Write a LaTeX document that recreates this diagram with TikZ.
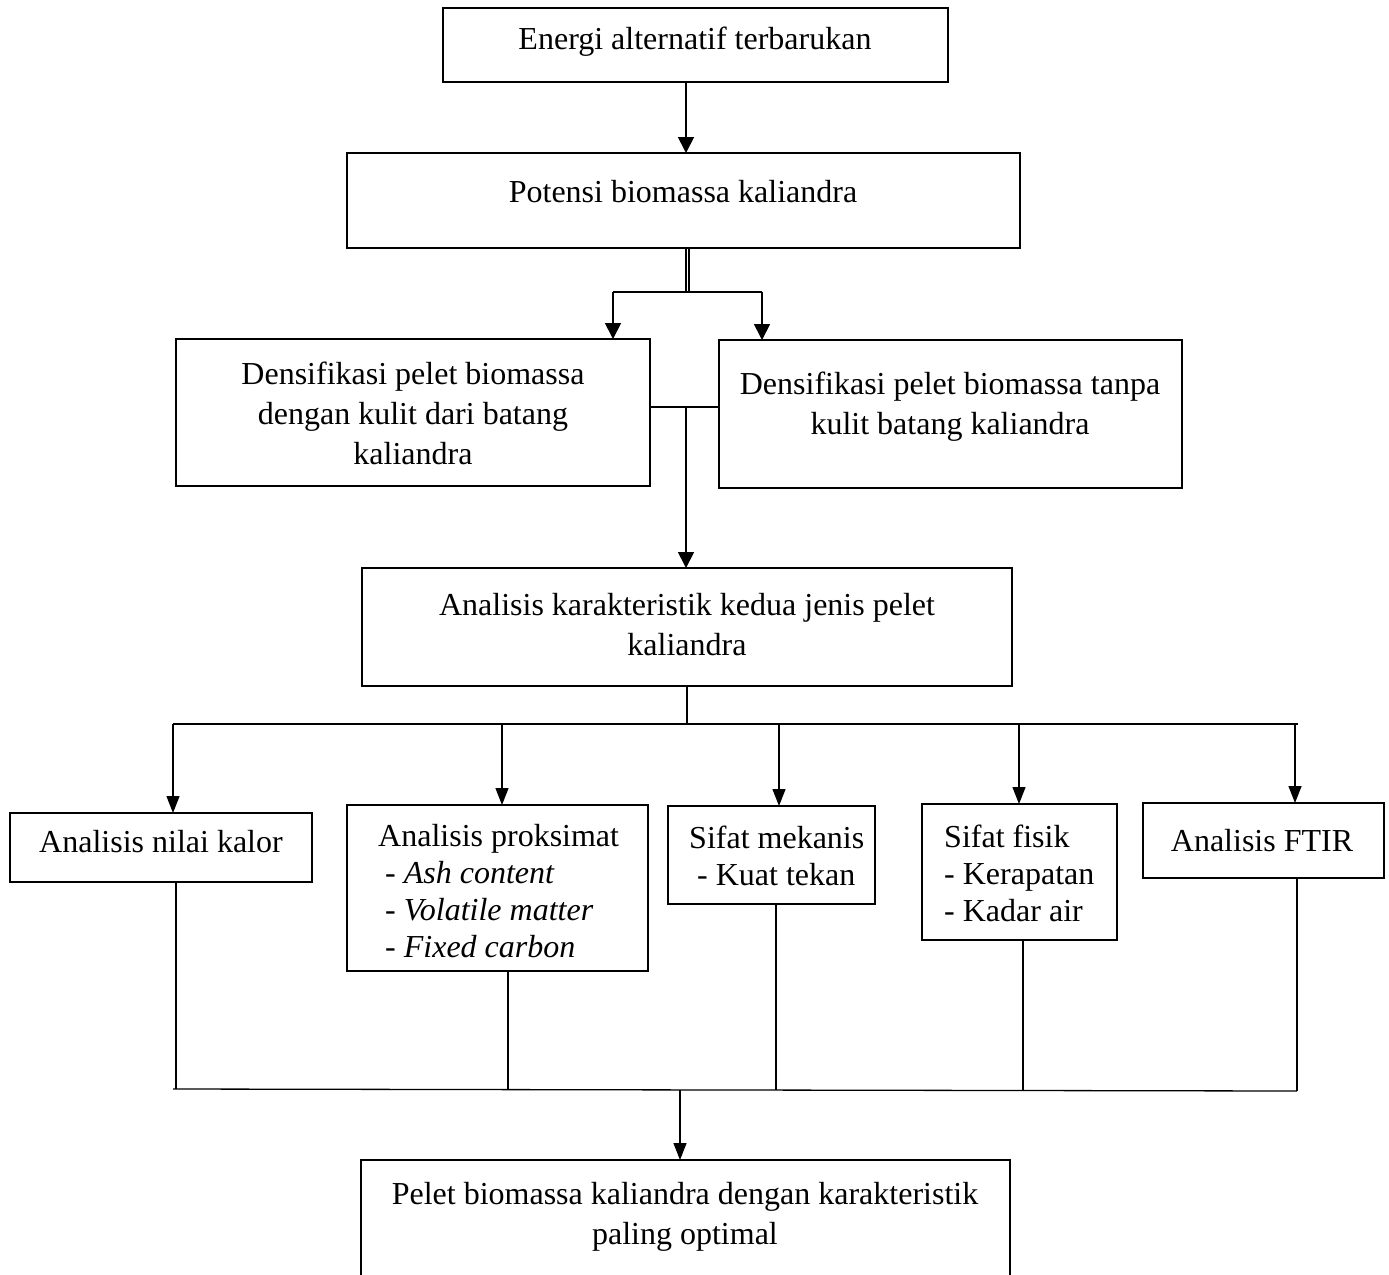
\documentclass[tikz,border=0pt]{standalone}
\usepackage{fontspec}
\setmainfont{Liberation Serif}
\usetikzlibrary{arrows.meta}
\begin{document}
\begin{tikzpicture}[x=1pt,y=-1pt,
  bigbox/.style={draw, line width=2.5pt, outer sep=0pt, inner sep=0pt},
  smallbox/.style={draw, line width=1.5pt, outer sep=0pt, inner sep=0pt},
  txt/.style={inner sep=0pt, font=\fontsize{32}{40}\selectfont, align=center},
  ltxt/.style={inner sep=0pt, font=\fontsize{32}{37}\selectfont, align=left, anchor=west},
  conn/.style={line width=1.8pt},
  thin/.style={line width=1.3pt},
  arr/.style={line width=1.8pt, -{Triangle[length=16pt,width=16pt]}},
  arrs/.style={line width=1.3pt, -{Triangle[length=17pt,width=13pt]}}
]
\useasboundingbox (0,0) rectangle (1389,1274);
\fill[white] (0,0) rectangle (1389,1274);

% boxes
\node[bigbox, minimum width=505, minimum height=74] (b1) at (695.5,45) {};
\node[bigbox, minimum width=673, minimum height=95] (b2) at (683.5,200.5) {};
\node[bigbox, minimum width=474, minimum height=147] (b3) at (413,412.5) {};
\node[bigbox, minimum width=463, minimum height=148] (b4) at (950.5,414) {};
\node[bigbox, minimum width=650, minimum height=118] (b5) at (687,627) {};
\node[smallbox, minimum width=302, minimum height=69] (c1) at (161,847.5) {};
\node[smallbox, minimum width=301, minimum height=166] (c2) at (497.5,888) {};
\node[smallbox, minimum width=207, minimum height=98] (c3) at (771.5,855) {};
\node[smallbox, minimum width=195, minimum height=136] (c4) at (1019.5,872) {};
\node[smallbox, minimum width=241, minimum height=75] (c5) at (1263.5,840.5) {};
\node[bigbox, minimum width=649, minimum height=160, anchor=north] (b6) at (685.5,1160) {};

% texts
\node[txt] (t1) at (695,42) {Energi alternatif terbarukan};
\node[txt] (t2) at (683,192) {Potensi biomassa kaliandra};
\node[txt] (t3) at (413,413) {Densifikasi pelet biomassa\\dengan kulit dari batang\\kaliandra};
\node[txt] (t4) at (950,407) {Densifikasi pelet biomassa tanpa\\kulit batang kaliandra};
\node[txt] (t5) at (687,625) {Analisis karakteristik kedua jenis pelet\\kaliandra};
\node[txt] (u1) at (161,842) {Analisis nilai kalor};
\node[ltxt] (u2) at (378,891) {Analisis proksimat\\\hspace*{7pt}- \textit{Ash content}\\\hspace*{7pt}- \textit{Volatile matter}\\\hspace*{7pt}- \textit{Fixed carbon}};
\node[ltxt] (u3) at (689,856) {Sifat mekanis\\\hspace*{8pt}- Kuat tekan};
\node[ltxt] (u4) at (944,873) {Sifat fisik\\- Kerapatan\\- Kadar air};
\node[txt] (u5) at (1262,841) {Analisis FTIR};
\node[txt] (t6) at (685,1217) {Pelet biomassa kaliandra dengan karakteristik\\paling optimal};

% junction coordinates
\coordinate (sp) at (686,0);
\coordinate (j1) at (687.5,292);
\coordinate (jl) at (613,292);
\coordinate (jr) at (762,292);
\coordinate (j2) at (686,407);
\coordinate (j3) at (687,724);
\coordinate (bl) at (173,724);
\coordinate (br) at (1298,724);
\coordinate (x1) at (173,0);
\coordinate (x2) at (502,0);
\coordinate (x3) at (779,0);
\coordinate (x4) at (1019,0);
\coordinate (x5) at (1295,0);
\coordinate (y1) at (176,0);
\coordinate (y2) at (508,0);
\coordinate (y3) at (776,0);
\coordinate (y4) at (1023,0);
\coordinate (y5) at (1297,0);
\coordinate (ql) at (173,1089);
\coordinate (qr) at (1297,1091);
\coordinate (q) at (680,1090);

% connectors
\draw[arr] (sp |- b1.south) -- (sp |- b2.north);
\draw[conn] ([xshift=-1.6pt]j1 |- b2.south) -- ([xshift=-1.6pt]j1);
\draw[conn] ([xshift=1.6pt]j1 |- b2.south) -- ([xshift=1.6pt]j1);
\draw[conn] (jl) -- (jr);
\draw[arr] (jl) -- (jl |- b3.north);
\draw[arr] (jr) -- (jr |- b4.north);
\draw[conn] (b3.east |- j2) -- (b4.west |- j2);
\draw[arr] (j2) -- (j2 |- b5.north);
\draw[thin] (j3 |- b5.south) -- (j3);
\draw[thin] (bl) -- (br);
\draw[arrs] (x1 |- bl) -- (x1 |- c1.north);
\draw[arrs] (x2 |- bl) -- (x2 |- c2.north);
\draw[arrs] (x3 |- bl) -- (x3 |- c3.north);
\draw[arrs] (x4 |- bl) -- (x4 |- c4.north);
\draw[arrs] (x5 |- bl) -- (x5 |- c5.north);
\draw[thin] (y1 |- c1.south) -- (y1 |- ql);
\draw[thin] (y2 |- c2.south) -- (y2 |- q);
\draw[thin] (y3 |- c3.south) -- (y3 |- q);
\draw[thin] (y4 |- c4.south) -- (y4 |- q);
\draw[thin] (y5 |- c5.south) -- (y5 |- qr);
\draw[thin] (ql) -- (qr);
\draw[arrs] (q) -- (q |- b6.north);
\end{tikzpicture}
\end{document}
